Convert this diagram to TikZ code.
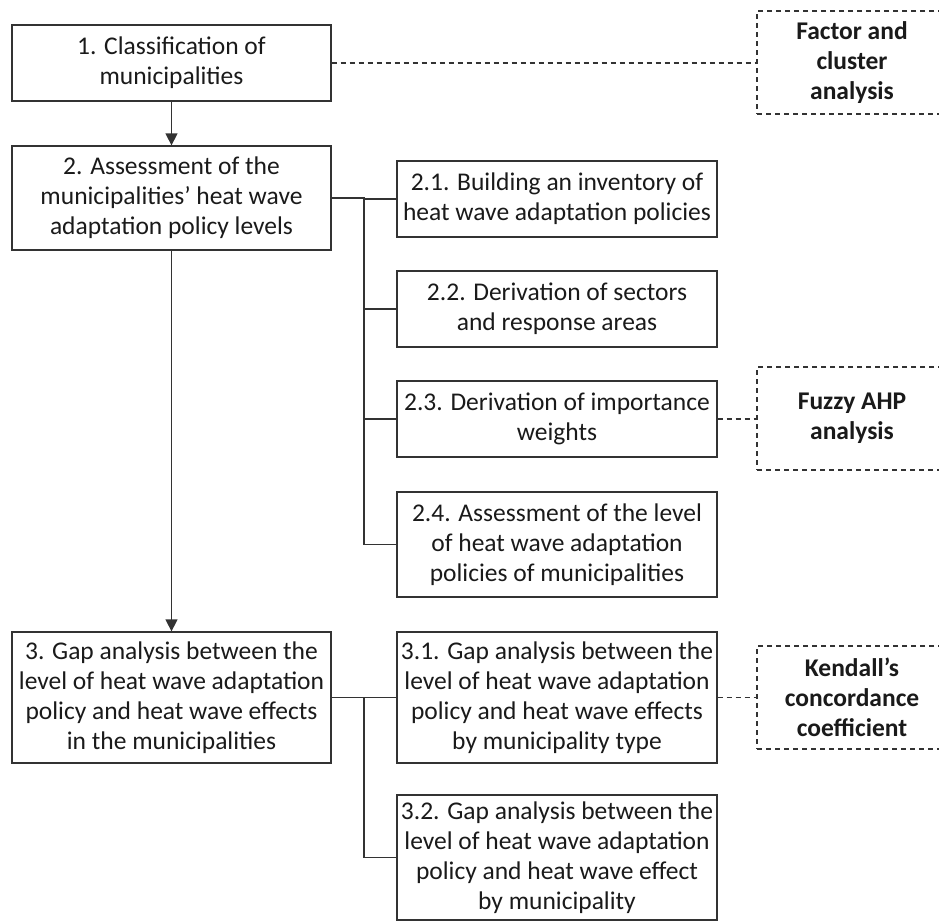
\documentclass[tikz,border=0pt]{standalone}
\usepackage{fontspec}
\setmainfont{Carlito}
\usetikzlibrary{arrows.meta}
\definecolor{linec}{HTML}{333333}
\definecolor{textc}{HTML}{1A1A1A}
\begin{document}
\begin{tikzpicture}[x=1pt,y=-1pt,
  box/.style={draw=linec, line width=1.3pt, align=center, inner sep=0pt, minimum width=319pt, font=\fontsize{25.5}{30}\selectfont, text=textc},
  dbox/.style={draw=linec, line width=1.2pt, dash pattern=on 5pt off 4pt, align=center, inner sep=0pt, minimum width=190pt, minimum height=103pt, font=\fontsize{25.5}{30}\selectfont\bfseries, text=textc},
  conn/.style={draw=linec, line width=1.3pt},
  dconn/.style={draw=linec, line width=1.2pt, dash pattern=on 5pt off 4pt},
  arr/.style={conn, -{Triangle[length=12pt,width=12pt]}}]
\fill[white] (0,0) rectangle (939,922);
\useasboundingbox (0,0) rectangle (939,922);
\clip (0,0) rectangle (939,922);

% left column
\node[box, minimum height=76pt] (b1) at (171.5,63) {1. Classification of\\municipalities};
\node[box, minimum height=104pt] (b2) at (171.5,198) {2. Assessment of the\\municipalities’ heat wave\\adaptation policy levels};
\node[box, minimum height=131pt] (b3) at (171.5,697.5) {3. Gap analysis between the\\level of heat wave adaptation\\policy and heat wave effects\\in the municipalities};

% right column
\node[box, minimum width=320pt, minimum height=76pt] (b21) at (557,199) {2.1. Building an inventory of\\heat wave adaptation policies};
\node[box, minimum width=320pt, minimum height=76pt] (b22) at (557,309) {2.2. Derivation of sectors\\and response areas};
\node[box, minimum width=320pt, minimum height=76pt] (b23) at (557,419) {2.3. Derivation of importance\\weights};
\node[box, minimum width=320pt, minimum height=105pt] (b24) at (557,544.5) {2.4. Assessment of the level\\of heat wave adaptation\\policies of municipalities};
\node[box, minimum width=320pt, minimum height=131pt] (b31) at (557,697.5) {3.1. Gap analysis between the\\level of heat wave adaptation\\policy and heat wave effects\\by municipality type};
\node[box, minimum width=320pt, minimum height=125pt] (b32) at (557,857.5) {3.2. Gap analysis between the\\level of heat wave adaptation\\policy and heat wave effect\\by municipality};

% method boxes
\node[dbox] (f1) at (852,62.5) {Factor and\\cluster\\analysis};
\node[dbox] (f2) at (852,418.5) {Fuzzy AHP\\analysis};
\node[dbox] (f3) at (852,697.5) {Kendall’s\\concordance\\coefficient};

% arrows
\draw[arr] (b1) -- (b2);
\draw[arr] (b2) -- (b3);

% tree connectors
\coordinate (t2) at (364,198);
\draw[conn] (b2.east) -- (t2) -- (t2 |- b21.west) -- (b21.west);
\draw[conn] (t2) |- (b22.west);
\draw[conn] (t2) |- (b23.west);
\draw[conn] (t2) |- (b24.west);
\coordinate (t3) at (364,697.5);
\draw[conn] (b3.east) -- (b31.west);
\draw[conn] (t3) |- (b32.west);

% dashed links
\draw[dconn] (b1.east) -- (f1.west |- b1.east);
\draw[dconn] (b23.east) -- (f2.west |- b23.east);
\draw[dconn] (b31.east) -- (f3.west);
\end{tikzpicture}
\end{document}
